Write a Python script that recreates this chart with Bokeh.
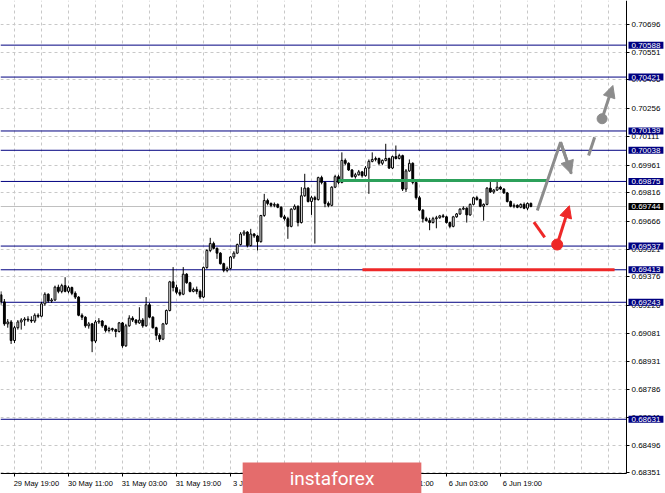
from bokeh.plotting import figure
from bokeh.models import (Range1d, FixedTicker, PrintfTickFormatter, Label,
                          Arrow, NormalHead, ColumnDataSource, LinearAxis, BoxAnnotation)
from bokeh.embed import file_html
from bokeh.resources import INLINE

# ---------------- data (prices in 1e-5 points) ----------------
first_bar = -4   # bar index of the first candle (index 0 = 29 May 19:00, H1 bars)
open_pts = [69282, 69245, 69130, 69140, 69043, 69110, 69140, 69150, 69155, 69150,
            69145, 69175, 69170, 69235, 69285, 69250, 69255, 69322, 69300, 69330,
            69300, 69320, 69290, 69270, 69175, 69165, 69120, 69130, 69040, 69140,
            69145, 69120, 69095, 69105, 69100, 69090, 69135, 69015, 69120, 69160,
            69150, 69135, 69150, 69120, 69230, 69165, 69110, 69070, 69050, 69130,
            69200, 69350, 69320, 69295, 69285, 69390, 69345, 69300, 69310, 69300,
            69270, 69425, 69514, 69550, 69525, 69500, 69445, 69410, 69420, 69480,
            69500, 69545, 69600, 69610, 69540, 69600, 69590, 69560, 69697, 69775,
            69760, 69750, 69755, 69740, 69690, 69680, 69640, 69730, 69745, 69660,
            69800, 69840, 69770, 69790, 69780, 69895, 69870, 69760, 69750, 69845,
            69900, 69870, 69985, 69970, 69935, 69900, 69910, 69925, 69905, 69945,
            69980, 69990, 69995, 69970, 69985, 69995, 69945, 70005, 69995, 70010,
            69835, 69930, 69970, 69870, 69790, 69725, 69680, 69670, 69660, 69680,
            69685, 69695, 69690, 69660, 69640, 69690, 69705, 69730, 69735, 69700,
            69755, 69790, 69780, 69745, 69755, 69840, 69820, 69830, 69845, 69835,
            69815, 69770, 69745, 69750, 69740, 69755, 69735, 69760]
high_pts = [69300, 69260, 69155, 69150, 69120, 69150, 69160, 69165, 69170, 69170,
            69185, 69185, 69245, 69295, 69290, 69265, 69330, 69335, 69340, 69374,
            69330, 69325, 69300, 69275, 69185, 69170, 69140, 69135, 69150, 69160,
            69150, 69125, 69115, 69110, 69105, 69140, 69140, 69130, 69175, 69170,
            69155, 69217, 69160, 69270, 69240, 69170, 69115, 69080, 69135, 69205,
            69355, 69427, 69335, 69310, 69427, 69395, 69350, 69320, 69325, 69310,
            69430, 69520, 69580, 69560, 69530, 69505, 69450, 69430, 69485, 69510,
            69550, 69610, 69620, 69615, 69627, 69605, 69595, 69700, 69810, 69785,
            69765, 69765, 69760, 69745, 69700, 69690, 69735, 69755, 69750, 69845,
            69915, 69845, 69800, 69800, 69900, 69905, 69875, 69770, 69850, 69910,
            69910, 70027, 69995, 69975, 69940, 69920, 69935, 69930, 69955, 69990,
            70027, 70005, 70000, 69990, 70072, 70000, 70010, 70063, 70020, 70015,
            69940, 69990, 69975, 69880, 69800, 69730, 69690, 69685, 69690, 69695,
            69700, 69705, 69695, 69665, 69695, 69710, 69735, 69745, 69740, 69760,
            69795, 69800, 69785, 69760, 69845, 69880, 69835, 69880, 69850, 69840,
            69820, 69775, 69760, 69755, 69760, 69765, 69765, 69765]
low_pts = [69230, 69120, 69110, 69025, 69030, 69100, 69100, 69120, 69140, 69135,
           69135, 69160, 69165, 69225, 69240, 69240, 69250, 69290, 69290, 69295,
           69290, 69280, 69260, 69170, 69150, 69110, 69105, 68982, 69030, 69130,
           69110, 69085, 69085, 69090, 69060, 69085, 69005, 69010, 69115, 69140,
           69125, 69130, 69110, 69115, 69160, 69105, 69045, 69035, 69045, 69125,
           69195, 69300, 69285, 69275, 69280, 69340, 69295, 69295, 69285, 69260,
           69265, 69418, 69505, 69520, 69470, 69440, 69400, 69400, 69415, 69470,
           69495, 69540, 69590, 69530, 69535, 69580, 69514, 69555, 69690, 69750,
           69740, 69740, 69735, 69685, 69670, 69575, 69635, 69725, 69640, 69655,
           69795, 69765, 69700, 69550, 69775, 69860, 69740, 69740, 69745, 69840,
           69860, 69865, 69960, 69930, 69895, 69890, 69905, 69895, 69900, 69810,
           69975, 69980, 69960, 69960, 69980, 69940, 69940, 69990, 69990, 69825,
           69820, 69925, 69860, 69780, 69720, 69660, 69665, 69620, 69655, 69630,
           69680, 69685, 69655, 69630, 69635, 69685, 69700, 69725, 69660, 69695,
           69750, 69775, 69740, 69670, 69750, 69815, 69810, 69825, 69830, 69810,
           69765, 69740, 69735, 69735, 69735, 69730, 69725, 69740]
close_pts = [69245, 69130, 69140, 69043, 69110, 69140, 69150, 69155, 69150, 69145,
             69175, 69170, 69235, 69285, 69250, 69255, 69322, 69300, 69330, 69300,
             69320, 69290, 69270, 69175, 69165, 69120, 69130, 69040, 69140, 69145,
             69120, 69095, 69105, 69100, 69090, 69135, 69015, 69120, 69160, 69150,
             69135, 69150, 69120, 69230, 69165, 69110, 69070, 69050, 69130, 69200,
             69350, 69320, 69295, 69285, 69390, 69345, 69300, 69310, 69300, 69270,
             69425, 69514, 69550, 69525, 69500, 69445, 69410, 69420, 69480, 69500,
             69545, 69600, 69610, 69540, 69600, 69590, 69560, 69697, 69775, 69760,
             69750, 69755, 69740, 69690, 69680, 69640, 69730, 69745, 69660, 69800,
             69840, 69770, 69790, 69780, 69895, 69870, 69760, 69750, 69845, 69900,
             69870, 69985, 69970, 69935, 69900, 69910, 69925, 69905, 69945, 69980,
             69990, 69995, 69970, 69985, 69995, 69945, 70005, 69995, 70010, 69835,
             69930, 69970, 69870, 69790, 69725, 69680, 69670, 69660, 69680, 69685,
             69695, 69690, 69660, 69640, 69690, 69705, 69730, 69735, 69700, 69755,
             69790, 69780, 69745, 69755, 69840, 69820, 69830, 69845, 69835, 69815,
             69770, 69745, 69750, 69740, 69755, 69735, 69760, 69744]

time_tick_bars = [0, 16, 32, 48, 64, 80, 96, 112, 128, 144]
time_tick_labels = ["29 May 19:00", "30 May 11:00", "31 May 03:00", "31 May 19:00",
                    "3 Jun 11:00", "4 Jun 03:00", "4 Jun 19:00", "5 Jun 11:00",
                    "6 Jun 03:00", "6 Jun 19:00"]
price_ticks = [0.70696, 0.70551, 0.70406, 0.70256, 0.70111, 0.69961, 0.69816, 0.69666,
               0.69521, 0.69376, 0.69226, 0.69081, 0.68931, 0.68786, 0.68641, 0.68496,
               0.68351]
levels = [0.70588, 0.70421, 0.70139, 0.70038, 0.69875, 0.69537, 0.69413, 0.69243, 0.68631]
current_price = 0.69744

resistance_bars = [96, 158.2]
resistance_price = 0.69880
support_bars = [103.1, 177.8]
support_price = 0.69413

gray_path_bars = [154.9, 161.8, 165.0]
gray_path_prices = [0.69723, 0.70080, 0.69915]
gray_dash_bars = [170.1, 171.9]
gray_dash_prices = [0.70011, 0.70106]
gray_up_bars = [174.1, 177.3]
gray_up_prices = [0.70203, 0.70377]
red_dash_bars = [153.9, 157.1]
red_dash_prices = [0.69662, 0.69583]
red_up_bars = [160.8, 164.4]
red_up_prices = [0.69545, 0.69748]

# ---------------- layout constants ----------------
X_START, X_END = -4.148, 192.89          # whole canvas width in bar units
Y_START, Y_END = 0.682427, 0.708215      # whole canvas height in price units
PRICE_AXIS_AT = 181.33                   # bar position of the price scale line
TIME_AXIS_AT = 0.683473                  # price position of the time scale line

# ---------------- build ----------------
n = len(close_pts)
bars = list(range(first_bar, first_bar + n))
o = [v / 1e5 for v in open_pts]
h = [v / 1e5 for v in high_pts]
l = [v / 1e5 for v in low_pts]
c = [v / 1e5 for v in close_pts]
src = ColumnDataSource(dict(
    x=bars, o=o, h=h, l=l, c=c,
    top=[max(a, b) for a, b in zip(o, c)],
    bottom=[min(a, b) for a, b in zip(o, c)],
    fill=["white" if cc >= oo else "black" for oo, cc in zip(o, c)],
))

p = figure(width=665, height=493, output_backend="svg", toolbar_location=None,
           y_axis_location="right",
           x_range=Range1d(X_START, X_END), y_range=Range1d(Y_START, Y_END),
           min_border_left=0, min_border_top=0, min_border_right=0, min_border_bottom=0)
p.outline_line_color = None
p.background_fill_color = "white"
p.border_fill_color = "white"

AX_FONT = "Liberation Sans"

# time axis: tick marks
time_ticks_axis = p.below[0]
time_ticks_axis.fixed_location = TIME_AXIS_AT
time_ticks_axis.bounds = (X_START, PRICE_AXIS_AT)
time_ticks_axis.ticker = FixedTicker(ticks=time_tick_bars)
time_ticks_axis.major_label_overrides = {b: "" for b in time_tick_bars}
time_ticks_axis.major_label_text_font_size = "0px"
time_ticks_axis.major_tick_out = 3
time_ticks_axis.major_tick_in = 0
time_ticks_axis.minor_tick_line_color = None
time_ticks_axis.axis_line_color = "black"
time_ticks_axis.major_tick_line_color = "black"

# time axis: labels starting at their tick (MT4 style)
LABEL_SHIFT = 6.5
shifted = [b + LABEL_SHIFT for b in time_tick_bars]
time_axis = LinearAxis(ticker=FixedTicker(ticks=shifted), fixed_location=TIME_AXIS_AT,
                       major_label_overrides={s: t for s, t in zip(shifted, time_tick_labels)},
                       axis_line_color=None, major_tick_line_color=None,
                       minor_tick_line_color=None, major_tick_out=0, major_tick_in=0,
                       major_label_standoff=5,
                       major_label_text_font=AX_FONT, major_label_text_font_size="7.5px",
                       major_label_text_color="black")
p.add_layout(time_axis, "below")

# price axis
yax = p.right[0]
yax.fixed_location = PRICE_AXIS_AT
yax.bounds = (TIME_AXIS_AT, Y_END)
yax.ticker = FixedTicker(ticks=price_ticks)
yax.formatter = PrintfTickFormatter(format="%.5f")
yax.major_label_text_font = AX_FONT
yax.major_label_text_font_size = "8px"
yax.major_label_text_color = "black"
yax.major_label_standoff = 2
yax.major_tick_out = 3
yax.major_tick_in = 0
yax.minor_tick_line_color = None
yax.axis_line_color = "black"
yax.major_tick_line_color = "black"

# grids
p.xgrid.ticker = FixedTicker(ticks=list(range(0, 181, 8)))
for g in (p.xgrid, p.ygrid):
    g.grid_line_color = "#c8c8c8"
    g.grid_line_dash = "3 3"
    g.grid_line_width = 1

# blank the scale areas (outside the chart window)
p.add_layout(BoxAnnotation(left=PRICE_AXIS_AT, right=X_END + 10, bottom=Y_START - 0.01,
                           top=Y_END + 0.01, fill_color="white", fill_alpha=1,
                           line_color=None, level="underlay"))
p.add_layout(BoxAnnotation(left=X_START - 10, right=X_END + 10, bottom=Y_START - 0.01,
                           top=TIME_AXIS_AT, fill_color="white", fill_alpha=1,
                           line_color=None, level="underlay"))

# horizontal levels and current price line, from the left edge to the price scale
lvl_src = ColumnDataSource(dict(y=levels, x0=[X_START] * len(levels),
                                x1=[PRICE_AXIS_AT] * len(levels)))
p.segment(x0="x0", y0="y", x1="x1", y1="y", source=lvl_src,
          line_color="#000080", line_width=1)
p.segment(x0=[X_START], y0=[current_price], x1=[PRICE_AXIS_AT], y1=[current_price],
          line_color="#c0c0c0", line_width=1)

# candles
p.segment(x0="x", y0="l", x1="x", y1="h", source=src, line_color="black", line_width=1)
p.vbar(x="x", width=0.55, top="top", bottom="bottom", fill_color="fill",
       line_color="black", line_width=1, source=src)

# resistance / support
GREEN = "#2ca05a"
RED = "#ee2828"
GRAY = "#8c8c8c"
p.line(resistance_bars, [resistance_price] * 2, line_color=GREEN, line_width=3)
p.line(support_bars, [support_price] * 2, line_color=RED, line_width=3)

# forecast drawings
p.line(gray_path_bars, gray_path_prices, line_color=GRAY, line_width=3)
p.add_layout(Arrow(end=NormalHead(size=13, fill_color=GRAY, line_color=GRAY),
                   x_start=gray_path_bars[1], y_start=gray_path_prices[1],
                   x_end=gray_path_bars[2], y_end=gray_path_prices[2],
                   line_color=GRAY, line_width=3))
p.line(gray_dash_bars, gray_dash_prices, line_color=GRAY, line_width=3)
p.scatter([gray_up_bars[0]], [gray_up_prices[0]], size=10, color=GRAY)
p.add_layout(Arrow(end=NormalHead(size=12, fill_color=GRAY, line_color=GRAY),
                   x_start=gray_up_bars[0], y_start=gray_up_prices[0],
                   x_end=gray_up_bars[1], y_end=gray_up_prices[1],
                   line_color=GRAY, line_width=3))
p.line(red_dash_bars, red_dash_prices, line_color=RED, line_width=3)
p.scatter([red_up_bars[0]], [red_up_prices[0]], size=11, color=RED)
p.add_layout(Arrow(end=NormalHead(size=12, fill_color=RED, line_color=RED),
                   x_start=red_up_bars[0], y_start=red_up_prices[0],
                   x_end=red_up_bars[1], y_end=red_up_prices[1],
                   line_color=RED, line_width=3))

# price boxes on the right scale
for lv in levels + [current_price]:
    bg = "black" if lv == current_price else "#000080"
    p.add_layout(Label(x=628, x_units="canvas", y=lv, text="%.5f" % lv,
                       text_font=AX_FONT, text_font_size="8px", text_color="white",
                       text_align="left", text_baseline="middle",
                       background_fill_color=bg, padding=(3, 1)))

# watermark
p.add_layout(Label(x=331.5, x_units="canvas", y=0.683237, text="instaforex",
                   text_font="Roboto", text_font_size="19px", text_color="white",
                   text_align="center", text_baseline="middle",
                   background_fill_color="#e46c6c", padding=(47, 4)))

open("out.html", "w").write(file_html(p, INLINE))
